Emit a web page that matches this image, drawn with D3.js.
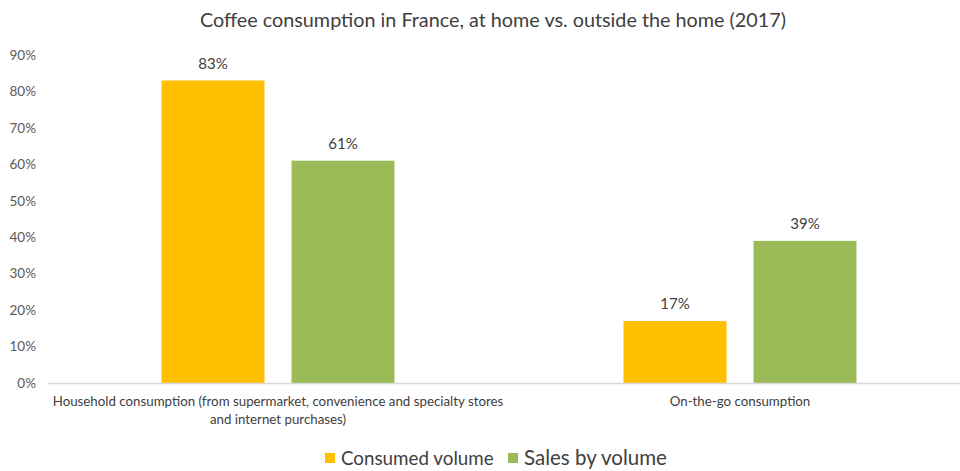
<!DOCTYPE html>
<html><head><meta charset="utf-8">
<script src="https://cdn.jsdelivr.net/npm/d3@7"></script>
<style>body{margin:0;background:#fff}svg{display:block;font-family:Lato,"Noto Sans",sans-serif}</style>
</head><body><svg id="c" width="960" height="471"></svg>
<script>
const categories = ["Household consumption (from supermarket, convenience and specialty stores|and internet purchases)", "On-the-go consumption"];
const seriesNames = ["Consumed volume", "Sales by volume"];
const consumedVolume = [0.83, 0.17];
const salesByVolume = [0.61, 0.39];
const yTicks = [0, 0.1, 0.2, 0.3, 0.4, 0.5, 0.6, 0.7, 0.8, 0.9];
const colors = ["#FFC000", "#9BBB59"];
const title = "Coffee consumption in France, at home vs. outside the home (2017)";

const svg = d3.select("#c");
const x0 = d3.scaleBand().domain(categories).range([47, 971]);
const x1 = d3.scaleBand().domain(seriesNames).range([114.5, 462 - 114.5]).paddingInner(0.2077);
const y = d3.scaleLinear().domain([0, 0.9]).range([383, 55]);

svg.append("text").attr("x", 493).attr("y", 27).attr("text-anchor", "middle")
  .attr("font-size", 19.8).attr("fill", "#404040").text(title);

const yAxis = d3.axisLeft(y).tickValues(yTicks).tickFormat(d3.format(".0%")).tickSize(0).tickPadding(0);
const ga = svg.append("g").attr("transform", "translate(36,0)").call(yAxis);
ga.select(".domain").remove();
ga.selectAll("text").attr("font-size", 13.5).attr("fill", "#595959").attr("font-family", "Lato");

const data = categories.map((c, i) => ({cat: c, vals: [consumedVolume[i], salesByVolume[i]]}));
const groups = svg.selectAll("g.grp").data(data).join("g").attr("class", "grp")
  .attr("transform", d => `translate(${x0(d.cat)},0)`);
groups.selectAll("rect").data(d => d.vals.map((v, j) => ({s: seriesNames[j], v, j})))
  .join("rect").attr("x", d => x1(d.s)).attr("width", x1.bandwidth())
  .attr("y", d => y(d.v)).attr("height", d => y(0) - y(d.v)).attr("fill", d => colors[d.j]);
groups.selectAll("text.lbl").data(d => d.vals.map((v, j) => ({s: seriesNames[j], v, j})))
  .join("text").attr("class", "lbl").attr("x", d => x1(d.s) + x1.bandwidth() / 2)
  .attr("y", d => y(d.v) - 12).attr("text-anchor", "middle").attr("font-size", 15)
  .attr("fill", "#404040").text(d => d3.format(".0%")(d.v));

const xAxis = d3.axisBottom(x0).tickSize(0).tickFormat("");
const gx = svg.append("g").attr("transform", "translate(0,383)").call(xAxis);
gx.select(".domain").attr("stroke", "#D9D9D9").attr("stroke-width", 1.5);
categories.forEach(c => {
  const lines = c.split("|");
  const t = svg.append("text").attr("text-anchor", "middle").attr("font-size", 13.3).attr("fill", "#404040");
  lines.forEach((l, k) => t.append("tspan").attr("x", x0(c) + x0.bandwidth() / 2).attr("y", 406 + k * 18).text(l));
});

const leg = svg.append("g");
const legX = [325, 508];
const legFont = [18.8, 20.5];
seriesNames.forEach((s, i) => {
  leg.append("rect").attr("x", legX[i]).attr("y", 453).attr("width", 10).attr("height", 10).attr("fill", colors[i]);
  leg.append("text").attr("x", legX[i] + 16).attr("y", 465).attr("font-size", legFont[i]).attr("fill", "#404040").text(s);
});
</script></body></html>
